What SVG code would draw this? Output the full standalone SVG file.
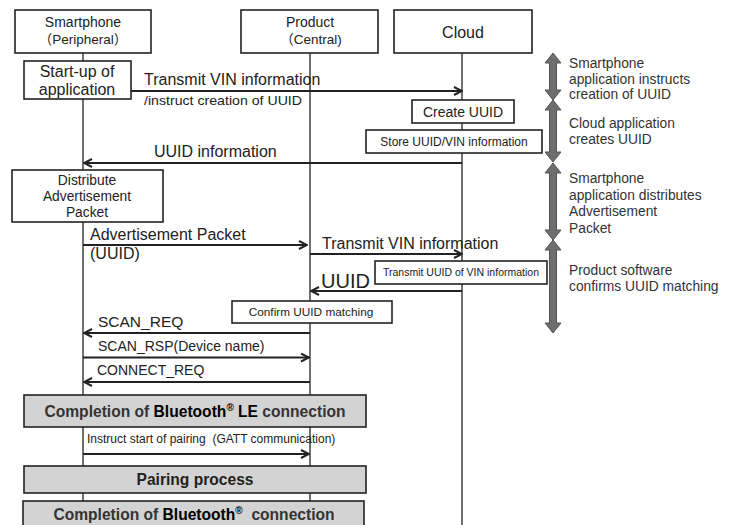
<svg xmlns="http://www.w3.org/2000/svg" width="735" height="525" viewBox="0 0 735 525">
  <style>
    text { font-family: "Liberation Sans", Arial, sans-serif; fill: #222; }
    .box { fill: #fff; stroke: #222; stroke-width: 1.6; }
    .gbox { fill: #d3d3d3; stroke: #222; stroke-width: 1.6; }
    .life { stroke: #333; stroke-width: 1.4; fill: none; }
    .msg { stroke: #222; stroke-width: 2; fill: none; }
    .c { text-anchor: middle; }
    .b { font-weight: bold; }
    .note { font-size: 13.8px; fill: #333; }
    .span { fill: #6e6e6e; stroke: #555; stroke-width: 1; }
  </style>
  <defs>
    <marker id="head" viewBox="0 0 10 10" refX="9" refY="5" markerWidth="10" markerHeight="10" orient="auto" markerUnits="userSpaceOnUse">
      <path d="M1,1 L9,5 L1,9" fill="none" stroke="#222" stroke-width="2"/>
    </marker>
  </defs>
  <rect width="735" height="525" fill="#fff"/>

  <!-- lifelines -->
  <g id="lifelines">
    <line class="life" x1="83" y1="53" x2="83" y2="501"/>
    <line class="life" x1="310" y1="53" x2="310" y2="501"/>
    <line class="life" x1="462" y1="53" x2="462" y2="525"/>
  </g>

  <!-- participants -->
  <g id="smartphone">
    <rect class="box" x="15" y="10" width="136" height="43"/>
    <text class="c" x="83" y="27" font-size="14">Smartphone</text>
    <text class="c" x="83" y="44" font-size="13.5" style="font-family:'Liberation Sans','Noto Sans CJK JP',sans-serif">（Peripheral）</text>
  </g>
  <g id="product">
    <rect class="box" x="241" y="10" width="137" height="43"/>
    <text class="c" x="310" y="27" font-size="14">Product</text>
    <text class="c" x="311" y="44" font-size="13.5" style="font-family:'Liberation Sans','Noto Sans CJK JP',sans-serif">（Central)</text>
  </g>
  <g id="cloud">
    <rect class="box" x="394" y="10" width="138" height="43"/>
    <text class="c" x="463" y="38" font-size="16">Cloud</text>
  </g>

  <!-- activity boxes -->
  <g id="startup">
    <rect class="box" x="24" y="61" width="107" height="38"/>
    <text class="c" x="77" y="77" font-size="16">Start-up of</text>
    <text class="c" x="77" y="95" font-size="16">application</text>
  </g>
  <g id="create-uuid">
    <rect class="box" x="412" y="100" width="102" height="23"/>
    <text class="c" x="463" y="117" font-size="14">Create UUID</text>
  </g>
  <g id="store-uuid">
    <rect class="box" x="366" y="130" width="176" height="23"/>
    <text class="c" x="454" y="146" font-size="12">Store UUID/VIN information</text>
  </g>
  <g id="distribute">
    <rect class="box" x="12" y="170" width="151" height="52"/>
    <text class="c" x="87" y="185" font-size="13.8">Distribute</text>
    <text class="c" x="87" y="201" font-size="13.8">Advertisement</text>
    <text class="c" x="87" y="217" font-size="13.8">Packet</text>
  </g>
  <g id="transmit-uuid">
    <rect class="box" x="375" y="261" width="172" height="23"/>
    <text class="c" x="461" y="276" font-size="10.5">Transmit UUID of VIN information</text>
  </g>
  <g id="confirm">
    <rect class="box" x="232" y="301" width="160" height="22"/>
    <text class="c" x="311" y="316" font-size="11.8">Confirm UUID matching</text>
  </g>
  <g id="le-connection">
    <rect class="gbox" x="24" y="395" width="342" height="32"/>
    <text class="c b" x="195" y="416.5" font-size="15.6"><tspan fill="#333">Completion of </tspan><tspan fill="#000">Bluetooth</tspan><tspan font-size="10" dy="-6" fill="#000">®</tspan><tspan dy="6" fill="#000"> LE</tspan><tspan fill="#333"> connection</tspan></text>
  </g>
  <g id="pairing">
    <rect class="gbox" x="24" y="466" width="342" height="27"/>
    <text class="c b" x="195" y="485" font-size="15.6" fill="#333">Pairing process</text>
  </g>
  <g id="bt-connection">
    <rect class="gbox" x="23" y="501" width="341" height="30"/>
    <text class="c b" x="194" y="520" font-size="15.6" xml:space="preserve"><tspan fill="#333">Completion of </tspan><tspan fill="#000">Bluetooth</tspan><tspan font-size="10" dy="-6" fill="#000">®</tspan><tspan dy="6" fill="#333">  connection</tspan></text>
  </g>

  <!-- messages -->
  <g id="messages">
    <line class="msg" x1="131" y1="91" x2="462" y2="91" marker-end="url(#head)"/>
    <text x="144" y="85" font-size="16">Transmit VIN information</text>
    <text x="144" y="105" font-size="13" textLength="158" lengthAdjust="spacingAndGlyphs">/instruct creation of UUID</text>

    <line class="msg" x1="462" y1="163" x2="84" y2="163" marker-end="url(#head)"/>
    <text x="154" y="157" font-size="16">UUID information</text>

    <line class="msg" x1="83" y1="245" x2="307" y2="245" marker-end="url(#head)"/>
    <text x="90" y="240" font-size="16">Advertisement Packet</text>
    <text x="90" y="259" font-size="16">(UUID)</text>

    <line class="msg" x1="310" y1="254" x2="462" y2="254" marker-end="url(#head)"/>
    <text x="322" y="249" font-size="16">Transmit VIN information</text>

    <line class="msg" x1="462" y1="291" x2="311" y2="291" marker-end="url(#head)"/>
    <text x="321" y="288" font-size="20">UUID</text>

    <line class="msg" x1="310" y1="333" x2="84" y2="333" marker-end="url(#head)"/>
    <text x="98" y="327" font-size="15.5">SCAN_REQ</text>

    <line class="msg" x1="83" y1="357.5" x2="309" y2="357.5" marker-end="url(#head)"/>
    <text x="98" y="351" font-size="14">SCAN_RSP(Device name)</text>

    <line class="msg" x1="310" y1="382" x2="84" y2="382" marker-end="url(#head)"/>
    <text x="97" y="375" font-size="14">CONNECT_REQ</text>

    <line class="msg" x1="83" y1="454" x2="309" y2="454" marker-end="url(#head)"/>
    <text x="87" y="443" font-size="12" xml:space="preserve">Instruct start of pairing  (GATT communication)</text>
  </g>

  <!-- phase spans -->
  <g id="phases">
    <polygon class="span" points="553,53 561,63 556.5,63 556.5,90 561,90 553,100 545,90 549.5,90 549.5,63 545,63"/>
    <polygon class="span" points="553,100 561,110 556.5,110 556.5,152 561,152 553,162 545,152 549.5,152 549.5,110 545,110"/>
    <polygon class="span" points="553,163 561,173 556.5,173 556.5,230 561,230 553,240 545,230 549.5,230 549.5,173 545,173"/>
    <polygon class="span" points="553,240 561,250 556.5,250 556.5,323 561,323 553,333 545,323 549.5,323 549.5,250 545,250"/>
    <text class="note" x="569" y="68">Smartphone</text>
    <text class="note" x="569" y="84">application instructs</text>
    <text class="note" x="569" y="99">creation of UUID</text>
    <text class="note" x="569" y="128" font-size="14.2">Cloud application</text>
    <text class="note" x="569" y="144" font-size="14.2">creates UUID</text>
    <text class="note" x="569" y="183">Smartphone</text>
    <text class="note" x="569" y="200">application distributes</text>
    <text class="note" x="569" y="216">Advertisement</text>
    <text class="note" x="569" y="233">Packet</text>
    <text class="note" x="569" y="275">Product software</text>
    <text class="note" x="569" y="291">confirms UUID matching</text>
  </g>
</svg>
